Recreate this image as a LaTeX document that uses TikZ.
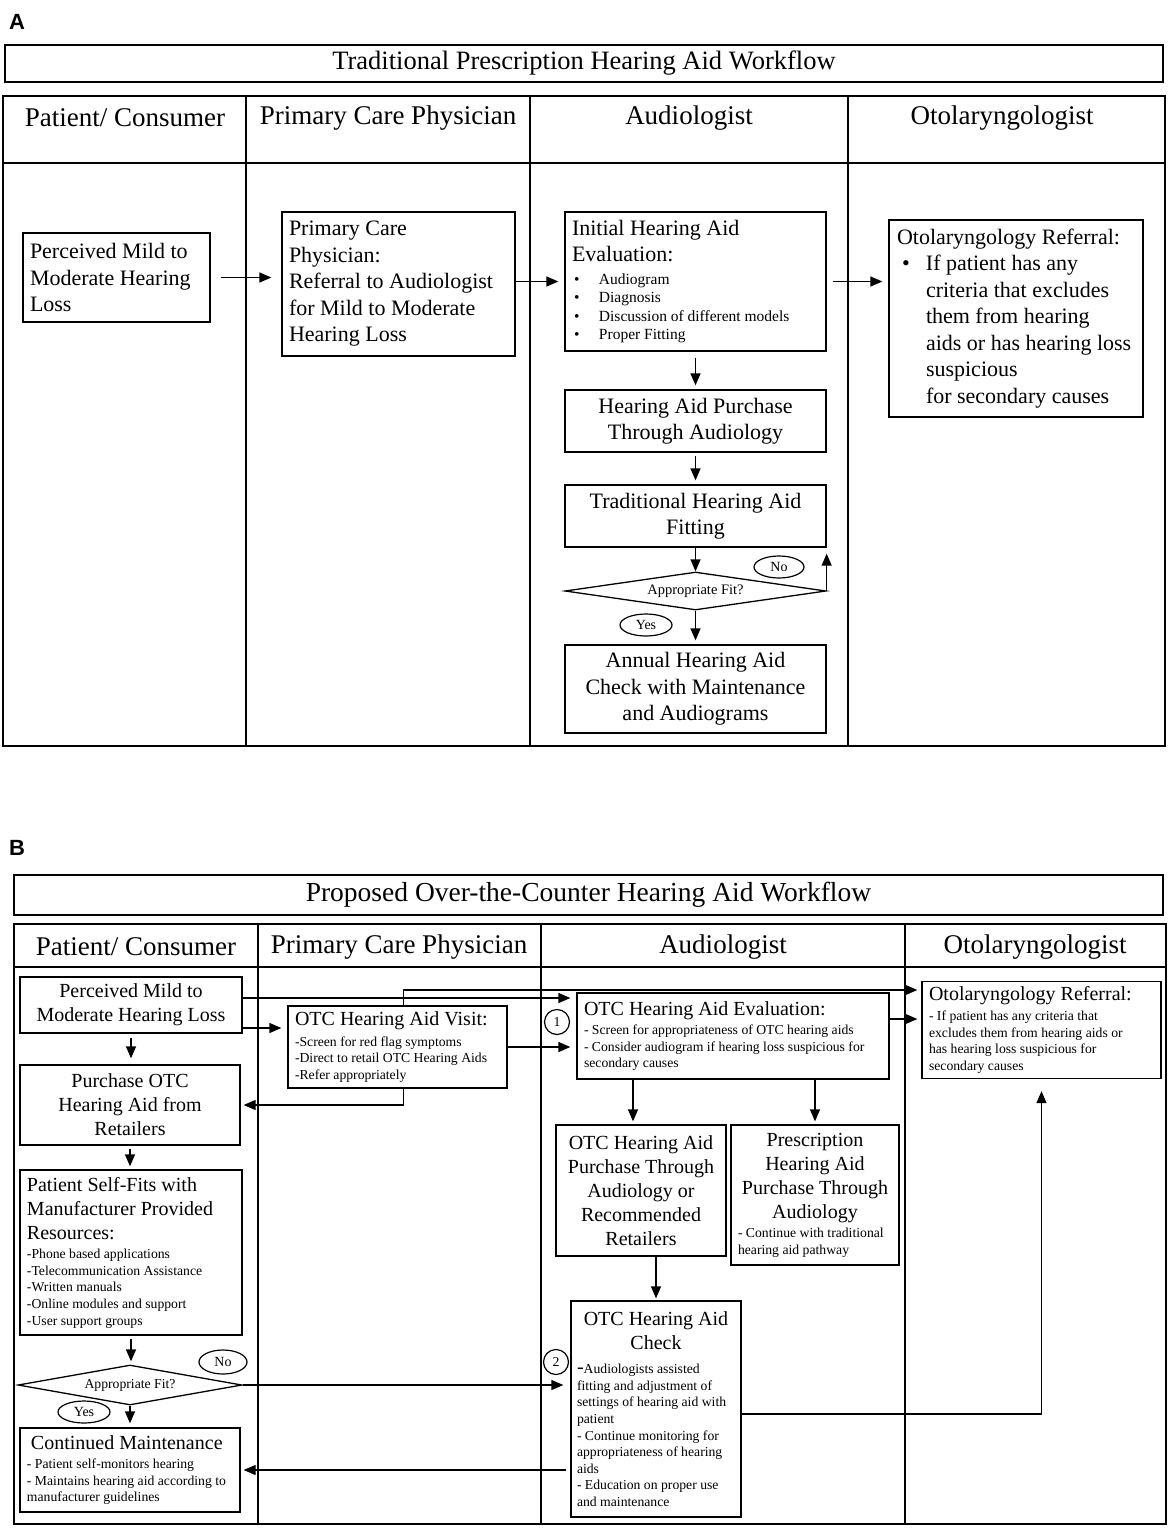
\documentclass[tikz,border=0pt]{standalone}
\usepackage{fontspec}
\setmainfont{Liberation Serif}
\newfontfamily\panelfont{Liberation Sans}
\usetikzlibrary{arrows.meta,shapes.geometric,calc}

\newcommand{\hdfont}{\fontsize{27}{32}\selectfont}
\newcommand{\ttlfont}{\fontsize{26.5}{30}\selectfont}
\newcommand{\bxfontA}{\fontsize{22}{26.5}\selectfont}
\newcommand{\smfontA}{\fontsize{15.5}{18.5}\selectfont}
\newcommand{\bxfontB}{\fontsize{20}{24}\selectfont}
\newcommand{\smfontB}{\fontsize{13.7}{16.6}\selectfont}
\newcommand{\tagfont}{\fontsize{14}{16}\selectfont}
\newcommand{\bul}{\makebox[27pt][l]{\hspace{2pt}\textbullet}}

\begin{document}
\begin{tikzpicture}[x=1pt,y=-1pt,
    every node/.style={inner sep=0pt},
    lane/.style={line width=1.8pt},
    hd/.style={font=\hdfont},
    ttlbox/.style={draw,line width=1.4pt,font=\ttlfont},
    box/.style={draw,line width=1.3pt,inner xsep=7pt,inner ysep=3pt},
    lbox/.style={box,align=flush left},
    cbox/.style={box,align=flush center},
    decision/.style={draw,line width=1.3pt,diamond,aspect=6,inner sep=0pt},
    tag/.style={draw,ellipse,line width=1.2pt,font=\tagfont},
    num/.style={draw,circle,line width=1.2pt,minimum size=25pt,font=\smfontB},
    arr/.style={line width=1.3pt,-{Triangle[length=12pt,width=10pt]}}]
\useasboundingbox (0,0) rectangle (1170,1529);

% panel A
\node[font=\panelfont\bfseries\fontsize{22}{22}\selectfont] (labA) at (17,22) {A};
\node[ttlbox,minimum width=1158pt,minimum height=37pt] (titleA) at (584,63.5)
  {Traditional Prescription Hearing Aid Workflow};
\draw[lane] (3,96) rectangle (1165,746);
\draw[lane] (3,163) -- (1165,163);
\draw[lane] (246,96) -- (246,746);
\draw[lane] (530,96) -- (530,746);
\draw[lane] (848,96) -- (848,746);
\node[hd] (hdpatA) at (125,118) {Patient/ Consumer};
\node[hd] (hdpcpA) at (388,118) {Primary Care Physician};
\node[hd] (hdaudA) at (689,118) {Audiologist};
\node[hd] (hdentA) at (1002,118) {Otolaryngologist};

\node[lbox,text width=173pt,minimum height=89pt,font=\bxfontA] (lossA) at (116.5,277.5)
  {Perceived Mild to\\Moderate Hearing\\Loss};
\node[lbox,text width=219pt,minimum height=144pt,font=\bxfontA] (pcpA) at (398.5,284)
  {Primary Care\\Physician:\\Referral to Audiologist\\for Mild to Moderate\\Hearing Loss};
\node[lbox,text width=247pt,minimum height=139pt] (evalA) at (695.5,281.5)
  {\bxfontA Initial Hearing Aid\\Evaluation:\par\vspace{4pt}
   \smfontA\bul Audiogram\\\bul Diagnosis\\\bul Discussion of different models\\\bul Proper Fitting\par};
\node[lbox,text width=246pt,inner xsep=4pt,minimum height=197pt,font=\bxfontA] (referA) at (1016,318.5)
  {\hspace*{4pt}Otolaryngology Referral:\\
   \makebox[33pt][l]{\hspace{9pt}\textbullet}If patient has any\\
   \hspace*{33pt}criteria that excludes\\
   \hspace*{33pt}them from hearing\\
   \hspace*{33pt}aids or has hearing loss\\
   \hspace*{33pt}suspicious\\
   \hspace*{33pt}for secondary causes};
\node[cbox,text width=247pt,minimum height=62pt,font=\bxfontA] (buyA) at (695.5,421)
  {Hearing Aid Purchase\\Through Audiology};
\node[cbox,text width=247pt,minimum height=62pt,font=\bxfontA] (fitboxA) at (695.5,516)
  {Traditional Hearing Aid\\Fitting};
\node[decision,minimum width=261pt,minimum height=38pt,font=\fontsize{14.5}{16}\selectfont] (decA) at (695.5,591)
  {Appropriate Fit?};
\node[tag,minimum width=50pt,minimum height=22pt] (noA) at (779,567) {No};
\node[tag,minimum width=52pt,minimum height=22pt] (yesA) at (646,625) {Yes};
\node[cbox,text width=247pt,minimum height=88pt,font=\bxfontA] (annualA) at (695.5,689)
  {Annual Hearing Aid\\Check with Maintenance\\and Audiograms};

\draw[arr,shorten <=10pt,shorten >=10pt] (lossA.east) -- (lossA.east -| pcpA.west);
\draw[arr,shorten >=6pt] (evalA.west -| pcpA.east) -- (evalA.west);
\draw[arr,shorten <=6pt,shorten >=6pt] (evalA.east) -- (evalA.east -| referA.west);
\draw[arr,shorten <=6pt,shorten >=4pt] (evalA.south) -- (buyA.north);
\draw[arr,shorten <=3pt,shorten >=4pt] (buyA.south) -- (fitboxA.north);
\draw[arr] (fitboxA.south) -- (decA.north);
\draw[arr,shorten >=4pt] (decA.south) -- (annualA.north);
\draw[arr,shorten >=6pt] (decA.east) -- (decA.east |- fitboxA.south);

% panel B
\node[font=\panelfont\bfseries\fontsize{22}{22}\selectfont] (labB) at (17,848) {B};
\node[ttlbox,minimum width=1149pt,minimum height=40pt,font=\fontsize{27.5}{30}\selectfont] (titleB) at (588.5,895)
  {Proposed Over-the-Counter Hearing Aid Workflow};
\draw[lane] (14,924) rectangle (1166,1524);
\draw[lane] (14,967) -- (1166,967);
\draw[lane] (258,924) -- (258,1524);
\draw[lane] (541,924) -- (541,1524);
\draw[lane] (905,924) -- (905,1524);
\node[hd] (hdpatB) at (136,947) {Patient/ Consumer};
\node[hd] (hdpcpB) at (399,947) {Primary Care Physician};
\node[hd] (hdaudB) at (723,947) {Audiologist};
\node[hd] (hdentB) at (1035,947) {Otolaryngologist};

\node[cbox,text width=208pt,minimum height=56pt,font=\bxfontB] (lossB) at (131,1005)
  {Perceived Mild to\\Moderate Hearing Loss};
\node[cbox,text width=206pt,minimum height=80pt,font=\bxfontB] (buyB) at (130,1105)
  {Purchase OTC\\Hearing Aid from\\Retailers};
\node[lbox,text width=208pt,minimum height=165pt] (selfB) at (131,1252.5)
  {\bxfontB Patient Self-Fits with\\Manufacturer Provided\\Resources:\par\vspace{3pt}
   \smfontB -Phone based applications\\-Telecommunication Assistance\\-Written manuals\\-Online modules and support\\-User support groups\par};
\node[decision,minimum width=224pt,minimum height=40pt,font=\smfontB] (decB) at (130,1385)
  {Appropriate Fit?};
\node[tag,minimum width=48pt,minimum height=24pt] (noB) at (223,1362) {No};
\node[tag,minimum width=52pt,minimum height=22pt] (yesB) at (84,1412) {Yes};
\node[lbox,text width=206pt,minimum height=84pt] (maintB) at (130,1470)
  {\bxfontB \hspace*{4pt}Continued Maintenance\par\vspace{3pt}
   \smfontB - Patient self-monitors hearing\\- Maintains hearing aid according to\\manufacturer guidelines\par};

\node[lbox,text width=205pt,minimum height=82pt] (visitB) at (397.5,1047)
  {\bxfontB OTC Hearing Aid Visit:\par\vspace{4pt}
   \smfontB -Screen for red flag symptoms\\-Direct to retail OTC Hearing Aids\\-Refer appropriately\par};

\node[lbox,text width=298pt,minimum height=86pt] (evalB) at (733,1036)
  {\bxfontB OTC Hearing Aid Evaluation:\par\vspace{3pt}
   \smfontB - Screen for appropriateness of OTC hearing aids\\- Consider audiogram if hearing loss suspicious for\\secondary causes\par};
\node[cbox,text width=156pt,minimum height=131pt,font=\bxfontB] (otcbuyB) at (641,1190.5)
  {OTC Hearing Aid\\Purchase Through\\Audiology or\\Recommended\\Retailers};
\node[lbox,text width=154pt,minimum height=140pt] (rxbuyB) at (815,1195)
  {{\centering\bxfontB Prescription\\Hearing Aid\\Purchase Through\\Audiology\par}\vspace{3pt}
   \smfontB - Continue with traditional\\hearing aid pathway\par};
\node[lbox,text width=158pt,inner xsep=6pt,minimum height=216pt] (checkB) at (656,1409)
  {{\centering\bxfontB OTC Hearing Aid\\Check\par}\vspace{8pt}
   \smfontB {\bxfontB\smash{-}}Audiologists assisted\\fitting and adjustment of\\settings of hearing aid with\\patient\\- Continue monitoring for\\appropriateness of hearing\\aids\\- Education on proper use\\and maintenance\par};
\node[num] (oneB) at (557,1022) {1};
\node[num] (twoB) at (556,1362) {2};

\node[lbox,text width=225pt,minimum height=97pt] (referB) at (1041.5,1030)
  {\bxfontB Otolaryngology Referral:\par\vspace{3pt}
   \smfontB - If patient has any criteria that\\excludes them from hearing aids or\\has hearing loss suspicious for\\secondary causes\par};

\draw[arr,shorten <=4pt,shorten >=6pt] (lossB.south) -- (lossB.south |- buyB.north);
\draw[arr,shorten <=3pt,shorten >=3pt] (buyB.south) -- (buyB.south |- selfB.north);
\draw[arr,shorten <=3pt,shorten >=3pt] (selfB.south) -- (selfB.south |- decB.north);
\draw[arr,shorten >=4pt] (decB.south) -- (maintB.north);
\draw[arr,shorten >=6pt] ([yshift=7pt]lossB.east) -- ([yshift=7pt]lossB.east -| evalB.west);
\draw[arr,shorten >=6pt] ([yshift=-23pt]lossB.east) -- ([yshift=-23pt]lossB.east -| visitB.west);
\draw[arr,shorten >=4pt] ([xshift=6pt]visitB.north) |- ([yshift=40pt]referB.west);
\draw[arr,shorten >=6pt] (visitB.east) -- (visitB.east -| evalB.west);
\draw[arr,shorten >=3pt] ([xshift=6pt]visitB.south) |- (buyB.east);
\draw[arr,shorten >=4pt] ([yshift=17pt]evalB.east) -- ([yshift=17pt]evalB.east -| referB.west);
\draw[arr,shorten >=3pt] ($(otcbuyB.north |- evalB.south)+(-8,0)$) -- ($(otcbuyB.north)+(-8,0)$);
\draw[arr,shorten >=3pt] (evalB.south -| rxbuyB.north) -- (rxbuyB.north);
\draw[arr,shorten >=2pt] (otcbuyB.south -| checkB.north) -- (checkB.north);
\draw[arr,shorten >=7pt] (decB.east) -- (decB.east -| checkB.west);
\draw[arr,shorten >=12pt] ([yshift=-5pt]checkB.east) -| (referB.south);
\draw[arr,shorten >=3pt] ($(checkB.west |- maintB.east)+(-4,0)$) -- (maintB.east);
\end{tikzpicture}
\end{document}
